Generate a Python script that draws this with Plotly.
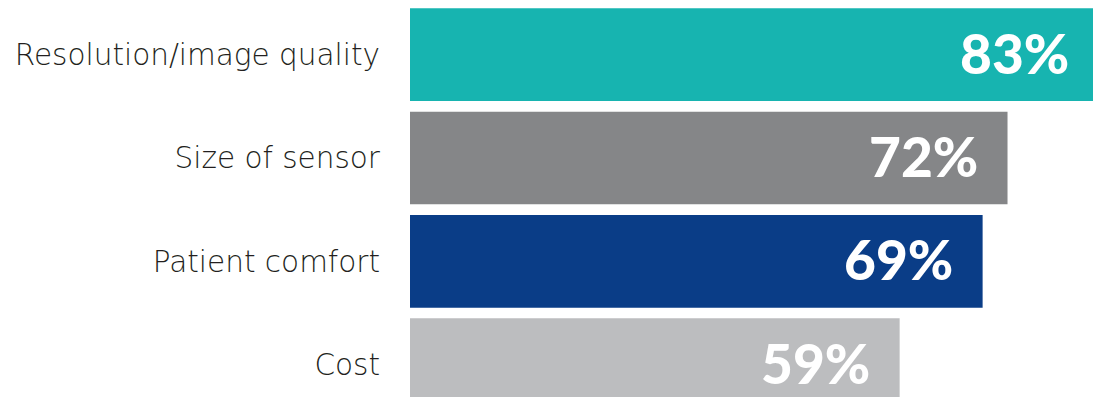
import plotly.graph_objects as go

# Survey factors, top to bottom, with share of respondents (%)
categories = ["Resolution/image quality", "Size of sensor", "Patient comfort", "Cost"]
values = [83, 72, 69, 59]
bar_colors = ["#17B4B0", "#858688", "#0A3D87", "#BCBDBF"]
value_labels = [f"{v}%" for v in values]

X_MAX = 82.3          # visible axis span; the top bar runs past the right edge
LABEL_PAD = 3.3       # gap (in % units) between a bar's end and its label

fig = go.Figure(
    go.Bar(
        x=values,
        y=categories,
        orientation="h",
        marker=dict(color=bar_colors, line=dict(width=0)),
        hoverinfo="skip",
    )
)

# White percentage labels tucked inside the end of each bar
for cat, val, lab in zip(categories, values, value_labels):
    fig.add_annotation(
        x=val - LABEL_PAD, y=cat, xref="x", yref="y",
        text=lab, showarrow=False,
        xanchor="right", yanchor="middle",
        yshift=2,
        font=dict(family="Lato", size=55, color="white", weight=900),
    )

fig.update_layout(
    width=1093, height=397,
    margin=dict(l=410, r=0, t=3, b=0),
    paper_bgcolor="white", plot_bgcolor="white",
    bargap=0.103,
    showlegend=False,
    xaxis=dict(range=[0, X_MAX], visible=False, fixedrange=True),
    yaxis=dict(
        categoryorder="array", categoryarray=categories,
        range=[3.313, -0.5],
        showgrid=False, zeroline=False, showline=False,
        ticks="", ticklabelstandoff=29,
        tickfont=dict(family="DejaVu Sans", size=29.5, color="#231F20", weight=200),
        fixedrange=True,
    ),
)

fig.write_html("out.html", config={"displayModeBar": False})
